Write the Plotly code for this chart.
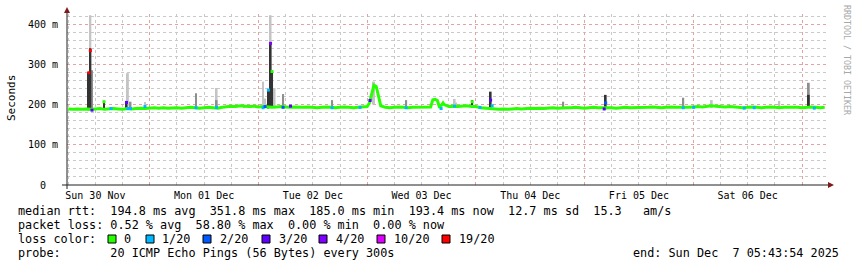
import plotly.graph_objects as go
import pandas as pd

# ---------------- data ----------------
range_start = "2025-11-30 05:43:54"
range_end = "2025-12-07 05:43:54"

# hourly median rtt (ms), starting at median_start
median_start = "2025-11-30 06:00"
median_hourly = [
    189, 188, 189, 188, 189, 188,
    189, 190, 188, 189, 190, 189, 188,
    190, 189, 190, 191, 190,
    191, 192, 191, 192, 191, 192, 192, 191, 192, 193, 192, 191,
    192, 193, 192, 191, 193, 195,
    196, 195, 197, 196, 195, 196,
    194, 195, 194, 193, 194, 195, 194, 193, 194, 193,
    193, 194, 193, 192, 193, 194, 193, 192, 193, 194, 193, 192, 193, 194,
    195, 228, 245, 197,
    193, 192, 193, 194, 193, 192, 193, 193,
    194, 193, 194, 213, 192, 200, 195,
    196, 195, 196, 197, 195, 195,
    192, 191, 190, 189, 188, 189, 188, 189, 190, 189,
    190, 191, 190, 191, 190, 191, 192, 191, 192, 192,
    192, 193, 192, 191, 192, 193, 192, 192, 193, 192, 191, 192, 193, 192, 192,
    193, 192, 193, 194, 193, 192, 193, 194, 193, 193, 192, 193,
    194, 195, 194, 196, 197, 196, 195, 194, 195,
    194, 193, 192, 193, 194, 193, 192, 193, 194, 193, 192, 193, 193, 194,
    193, 192, 193, 194, 193, 192, 193,
]

# extra median samples (finer detail)
extra_time = ["2025-12-03 00:30", "2025-12-03 01:30", "2025-12-03 02:30",
              "2025-12-03 14:30", "2025-12-03 15:30", "2025-12-03 16:45"]
extra_median = [204, 248, 218, 212, 210, 204]

# median samples with packet loss (or isolated excursions)
loss_time = [
    "2025-11-30 10:33", "2025-11-30 10:53", "2025-11-30 11:15", "2025-11-30 13:54",
    "2025-11-30 15:27", "2025-11-30 18:52", "2025-11-30 19:10", "2025-11-30 19:45",
    "2025-11-30 22:57", "2025-12-01 10:13", "2025-12-01 14:45", "2025-12-02 01:01",
    "2025-12-02 01:28", "2025-12-02 02:11", "2025-12-02 02:40", "2025-12-02 03:00",
    "2025-12-02 05:26", "2025-12-02 07:05", "2025-12-02 16:15", "2025-12-02 22:26",
    "2025-12-03 00:38", "2025-12-03 08:36", "2025-12-03 16:19", "2025-12-03 19:18",
    "2025-12-03 23:10", "2025-12-04 00:56", "2025-12-04 03:15", "2025-12-04 03:35",
    "2025-12-05 04:19", "2025-12-05 04:39", "2025-12-05 21:46", "2025-12-06 00:05",
    "2025-12-06 11:14", "2025-12-06 13:27", "2025-12-07 02:42",
]
loss_median = [
    279, 334, 186, 207,
    190, 205, 190, 190,
    195, 192, 193, 192,
    195, 236, 352, 282,
    193, 196, 192, 193,
    210, 192, 190, 196,
    207, 193, 211, 197,
    189, 204, 192, 193,
    191, 192, 191,
]
loss_frac = [
    "19/20", "19/20", "3/20", "0",
    "1/20", "3/20", "1/20", "1/20",
    "1/20", "1/20", "1/20", "1/20",
    "2/20", "1/20", "4/20", "0",
    "2/20", "3/20", "1/20", "1/20",
    "3/20", "1/20", "1/20", "1/20",
    "0", "1/20", "3/20", "1/20",
    "3/20", "2/20", "1/20", "1/20",
    "1/20", "1/20", "1/20",
]

# smoke: outer ping spread (light)
outer_time = ["2025-11-30 10:53", "2025-11-30 19:10", "2025-11-30 22:57", "2025-12-01 14:45",
              "2025-12-02 01:01", "2025-12-02 01:28", "2025-12-02 02:40", "2025-12-02 03:33",
              "2025-12-03 01:30", "2025-12-03 19:18", "2025-12-03 19:38", "2025-12-06 04:04",
              "2025-12-06 18:58"]
outer_lo = [190, 190, 190, 192, 190, 192, 195, 193, 200, 192, 192, 192, 192]
outer_hi = [422, 278, 206, 241, 257, 215, 422, 241, 257, 214, 205, 211, 209]

# smoke: middle ping spread (medium)
mid_time = ["2025-11-30 11:15", "2025-11-30 19:45", "2025-12-01 10:13", "2025-12-01 14:45",
            "2025-12-02 05:26", "2025-12-02 16:15", "2025-12-03 08:36", "2025-12-04 19:16",
            "2025-12-05 21:46", "2025-12-07 01:29"]
mid_lo = [190, 190, 191, 192, 192, 191, 191, 191, 191, 192]
mid_hi = [285, 207, 228, 211, 226, 211, 211, 207, 217, 254]

# smoke: inner ping spread (dark)
inner_time = ["2025-11-30 10:33", "2025-11-30 10:53", "2025-11-30 13:54", "2025-11-30 18:52",
              "2025-12-01 20:49", "2025-12-02 02:11", "2025-12-02 02:40", "2025-12-02 03:00",
              "2025-12-02 07:05", "2025-12-03 23:10", "2025-12-04 03:15", "2025-12-05 04:39",
              "2025-12-07 01:29"]
inner_lo = [186, 186, 190, 190, 193, 190, 195, 195, 192, 192, 192, 188, 192]
inner_hi = [280, 340, 207, 209, 199, 236, 354, 282, 198, 211, 232, 224, 224]

loss_labels = ["0", "1/20", "2/20", "3/20", "4/20", "10/20", "19/20"]

day_noon = ["2025-11-30 12:00", "2025-12-01 12:00", "2025-12-02 12:00", "2025-12-03 12:00",
            "2025-12-04 12:00", "2025-12-05 12:00", "2025-12-06 12:00"]
day_labels = ["Sun 30 Nov", "Mon 01 Dec", "Tue 02 Dec", "Wed 03 Dec",
              "Thu 04 Dec", "Fri 05 Dec", "Sat 06 Dec"]

y_ticks = [0, 100, 200, 300, 400]
y_labels = ["0  ", "100 m", "200 m", "300 m", "400 m"]

stat_lines = [
    "median rtt:  194.8 ms avg  351.8 ms max  185.0 ms min  193.4 ms now  12.7 ms sd  15.3   am/s",
    "packet loss: 0.52 % avg  58.80 % max  0.00 % min  0.00 % now",
    "loss color:",
    "probe:       20 ICMP Echo Pings (56 Bytes) every 300s",
]
end_text = "end: Sun Dec  7 05:43:54 2025"

# ---------------- styling ----------------
LOSS_COLORS = {"0": "#26ff00", "1/20": "#00b8ff", "2/20": "#0059ff", "3/20": "#5e00ff",
               "4/20": "#7e00ff", "10/20": "#dd00ff", "19/20": "#ff0000"}
FONT = "DejaVu Sans Mono"
W, H = 857, 267
PL, PR, PT, PB = 67, 828, 14, 185
STEP_MS = 26 * 60 * 1000

def px(x):
    return (x - PL) / (PR - PL)

def py(y):
    return (PB - y) / (PB - PT)

def nb(s):
    return s.replace(" ", "\u00a0")

# merged median series
med = pd.concat([
    pd.DataFrame({"t": pd.date_range(median_start, periods=len(median_hourly), freq="h"),
                  "v": median_hourly}),
    pd.DataFrame({"t": pd.to_datetime(extra_time), "v": extra_median}),
]).sort_values("t")

fig = go.Figure()

for t, lo, hi, col in [(outer_time, outer_lo, outer_hi, "#c4c4c4"),
                       (mid_time, mid_lo, mid_hi, "#8e8e8e"),
                       (inner_time, inner_lo, inner_hi, "#333333")]:
    fig.add_trace(go.Bar(x=pd.to_datetime(t), y=[h - l for h, l in zip(hi, lo)], base=lo,
                         width=STEP_MS, marker=dict(color=col, line=dict(width=0)),
                         hoverinfo="skip", showlegend=False))

fig.add_trace(go.Scatter(x=med["t"], y=med["v"], mode="lines",
                         line=dict(color=LOSS_COLORS["0"], width=3),
                         hoverinfo="skip", showlegend=False))

fig.add_trace(go.Scatter(x=pd.to_datetime(loss_time), y=loss_median, mode="markers",
                         marker=dict(symbol="square", size=3,
                                     color=[LOSS_COLORS[f] for f in loss_frac],
                                     line=dict(width=0)),
                         hoverinfo="skip", showlegend=False))

# dummy trace carrying the label axis
fig.add_trace(go.Scatter(x=[range_start], y=[None], xaxis="x2", mode="markers",
                         hoverinfo="skip", showlegend=False))

MAJOR = "#e4a2a2"
MINOR = "#c9c9c9"

fig.update_layout(
    width=W, height=H,
    margin=dict(l=PL, r=W - PR, t=PT, b=H - PB, pad=0),
    paper_bgcolor="white", plot_bgcolor="white",
    barmode="overlay",
    font=dict(family=FONT, size=10, color="black"),
    xaxis=dict(type="date", range=[range_start, range_end], showticklabels=False,
               showgrid=True, gridcolor=MAJOR, griddash="dot", gridwidth=1,
               tick0="2025-11-30", dtick=86400000, ticks="", zeroline=False, showline=False,
               minor=dict(tick0="2025-11-30", dtick=21600000, showgrid=True,
                          gridcolor=MINOR, griddash="dot", gridwidth=1, ticks="")),
    xaxis2=dict(type="date", range=[range_start, range_end], overlaying="x", anchor="y",
                side="bottom", tickmode="array", tickvals=day_noon, ticktext=day_labels,
                showgrid=False, ticks="", zeroline=False, showline=False,
                ticklabelstandoff=3,
                tickfont=dict(family=FONT, size=10, color="black")),
    yaxis=dict(range=[0, 425], tickmode="array", tickvals=y_ticks, ticktext=[nb(s) for s in y_labels],
               showgrid=True, gridcolor=MAJOR, griddash="dot", gridwidth=1,
               ticks="", zeroline=False, showline=False, ticklabelstandoff=8,
               tickfont=dict(family=FONT, size=10, color="black"),
               minor=dict(dtick=20, tick0=0, showgrid=True, gridcolor=MINOR,
                          griddash="dot", gridwidth=1, ticks="")),
)

shapes = [
    dict(type="line", xref="paper", yref="paper", x0=px(62), x1=px(829), y0=py(185), y1=py(185),
         line=dict(color="#202020", width=1)),
    dict(type="line", xref="paper", yref="paper", x0=px(67), x1=px(67), y0=py(189), y1=py(12),
         line=dict(color="#202020", width=1)),
    dict(type="path", xref="paper", yref="paper",
         path=f"M {px(828)} {py(182)} L {px(834)} {py(185)} L {px(828)} {py(188)} Z",
         fillcolor="#7f1a1a", line=dict(width=0)),
    dict(type="path", xref="paper", yref="paper",
         path=f"M {px(64)} {py(13)} L {px(67)} {py(7)} L {px(70)} {py(13)} Z",
         fillcolor="#7f1a1a", line=dict(width=0)),
]

annotations = [
    dict(text="Seconds", xref="paper", yref="paper", x=px(11), y=py(98), textangle=-90,
         showarrow=False, xanchor="center", yanchor="middle",
         font=dict(family=FONT, size=11, color="black")),
    dict(text=nb("RRDTOOL / TOBI OETIKER"), xref="paper", yref="paper", x=px(847), y=py(60),
         textangle=90, showarrow=False, xanchor="center", yanchor="middle",
         font=dict(family=FONT, size=8.3, color="#a8a8a8")),
]

line_y = [211, 225, 239, 253]
for s, yy in zip(stat_lines, line_y):
    annotations.append(dict(text=nb(s), xref="paper", yref="paper", x=px(16), y=py(yy),
                            showarrow=False, xanchor="left", yanchor="middle",
                            font=dict(family=FONT, size=11.8, color="black")))
annotations.append(dict(text=nb(end_text), xref="paper", yref="paper", x=px(841), y=py(253),
                        showarrow=False, xanchor="right", yanchor="middle",
                        font=dict(family=FONT, size=11.8, color="black")))

swatch_x = [108, 146, 203, 262, 319, 377, 442]
label_x = [122, 160, 218, 277, 334, 392, 457]
for lab, sx, lx in zip(loss_labels, swatch_x, label_x):
    shapes.append(dict(type="rect", xref="paper", yref="paper", x0=px(sx), x1=px(sx + 8),
                       y0=py(243), y1=py(235), fillcolor=LOSS_COLORS[lab],
                       line=dict(color="black", width=1)))
    annotations.append(dict(text=nb(lab), xref="paper", yref="paper", x=px(lx), y=py(239),
                            showarrow=False, xanchor="left", yanchor="middle",
                            font=dict(family=FONT, size=11.8, color="black")))

fig.update_layout(shapes=shapes, annotations=annotations)

fig.write_html("out.html", config={"displayModeBar": False})
